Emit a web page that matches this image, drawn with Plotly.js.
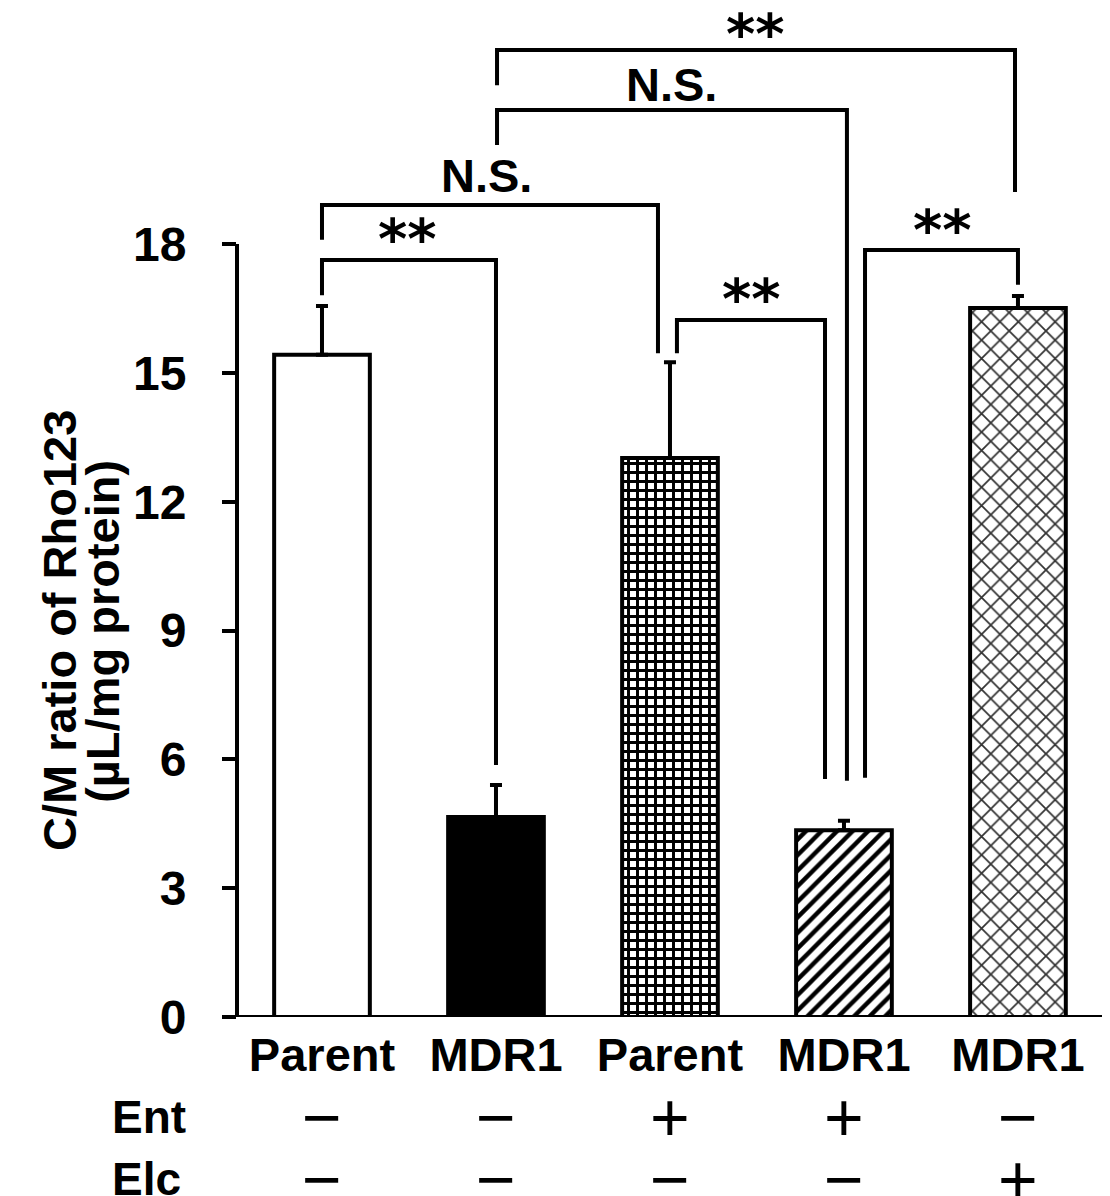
<!DOCTYPE html>
<html><head><meta charset="utf-8">
<script src="https://cdn.plot.ly/plotly-3.0.1.min.js"></script>
<style>body{margin:0;background:#fff}</style>
</head><body><div id="chart" style="width:1110px;height:1196px"></div>
<script>
// ---- data ----
const groupLabels = ['Parent', 'MDR1', 'Parent', 'MDR1', 'MDR1'];
const cmRatio = [15.42, 4.66, 13.02, 4.35, 16.51];
const cmError = [1.14, 0.74, 2.23, 0.22, 0.28];
const entRow = ['\u2212', '\u2212', '+', '+', '\u2212'];
const elcRow = ['\u2212', '\u2212', '\u2212', '\u2212', '+'];
const yTicks = [0, 3, 6, 9, 12, 15, 18];
const compLabel = ['**', 'N.S.', '**', 'N.S.', '**', '**'];

// ---- bracket geometry (layout only) ----
const brXL = [0, 0, 2.040, 1.006, 3.121, 1.006];
const brXR = [1, 1.931, 2.891, 3.017, 4.0, 3.983];
const brYL = [16.81, 18.10, 15.46, 20.31, 5.57, 21.70];
const brYT = [17.63, 18.91, 16.23, 21.12, 17.86, 22.52];
const brYR = [5.87, 15.46, 5.54, 5.50, 17.05, 19.21];
const lbX = [0.491, 0.948, 2.466, 2.011, 3.569, 2.494];
const lbY = [18.28, 19.60, 16.88, 21.72, 18.49, 23.05];

// ---- bar styles ----
const barFill = ['white', 'black', 'white', 'white', 'white'];
const patShape = ['', '', '+', '/', 'x'];
const patFg = ['black', 'black', 'black', 'black', '#333333'];
const patSize = [10, 10, 9, 11, 13];
const patSolid = [0.3, 0.3, 0.55, 0.4, 0.25];

const xIdx = groupLabels.map((_, i) => i);
const FONT = 'Liberation Sans, Arial, sans-serif';
const STARFONT = 'DejaVu Sans, Liberation Sans, sans-serif';

const traces = xIdx.map(i => {
  const marker = {color: barFill[i], line: {color: 'black', width: 4}};
  if (patShape[i]) {
    marker.pattern = {shape: patShape[i], fgcolor: patFg[i], bgcolor: 'white',
      size: patSize[i], solidity: patSolid[i], fillmode: 'replace'};
  }
  return {
    type: 'bar', x: [xIdx[i]], y: [cmRatio[i]], width: 0.55, marker: marker,
    error_y: {type: 'data', symmetric: false, array: [cmError[i]], arrayminus: [0],
      color: 'black', thickness: 4, width: 6},
    hoverinfo: 'none', showlegend: false
  };
});

const shapes = [];
const lineStyle = {color: 'black', width: 4};
shapes.push({type: 'line', xref: 'paper', yref: 'y', x0: 0, x1: 0, y0: 0, y1: 18, line: lineStyle});
shapes.push({type: 'line', xref: 'paper', yref: 'y', x0: 0, x1: 1, y0: 0, y1: 0, line: lineStyle});
for (let i = 0; i < compLabel.length; i++) {
  shapes.push({
    type: 'path', xref: 'x', yref: 'y',
    path: `M ${brXL[i]},${brYL[i]} L ${brXL[i]},${brYT[i]} L ${brXR[i]},${brYT[i]} L ${brXR[i]},${brYR[i]}`,
    line: lineStyle
  });
}

const annotations = [];
for (let i = 0; i < compLabel.length; i++) {
  const star = compLabel[i] === '**';
  annotations.push({
    xref: 'x', yref: 'y', x: lbX[i], y: lbY[i], text: compLabel[i], showarrow: false,
    xanchor: 'center', yanchor: 'middle',
    yshift: star ? -6 : 0,
    font: star ? {family: STARFONT, size: 56, color: 'black', weight: 'bold'}
               : {family: FONT, size: 47, color: 'black', weight: 'bold'}
  });
}
const row1Y = -0.0983, row2Y = -0.1593;
annotations.push({xref: 'paper', yref: 'paper', x: -0.1468, y: row1Y, text: 'Ent', showarrow: false,
  xanchor: 'left', yanchor: 'middle', font: {family: FONT, size: 46, color: 'black', weight: 'bold'}});
annotations.push({xref: 'paper', yref: 'paper', x: -0.1468, y: row2Y, text: 'Elc', showarrow: false,
  xanchor: 'left', yanchor: 'middle', font: {family: FONT, size: 46, color: 'black', weight: 'bold'}});
for (let i = 0; i < xIdx.length; i++) {
  annotations.push({xref: 'x', yref: 'paper', x: xIdx[i], y: row1Y, text: entRow[i], showarrow: false,
    xanchor: 'center', yanchor: 'middle', font: {family: FONT, size: 68, color: 'black', weight: 'normal'}});
  annotations.push({xref: 'x', yref: 'paper', x: xIdx[i], y: row2Y, text: elcRow[i], showarrow: false,
    xanchor: 'center', yanchor: 'middle', font: {family: FONT, size: 68, color: 'black', weight: 'normal'}});
}
annotations.push({xref: 'paper', yref: 'paper', x: -0.2046, y: 0.3796, text: 'C/M ratio of Rho123',
  textangle: -90, showarrow: false, xanchor: 'center', yanchor: 'middle',
  font: {family: FONT, size: 47, color: 'black', weight: 'bold'}});
annotations.push({xref: 'paper', yref: 'paper', x: -0.155, y: 0.3796, text: '(\u00b5L/mg protein)',
  textangle: -90, showarrow: false, xanchor: 'center', yanchor: 'middle',
  font: {family: FONT, size: 47, color: 'black', weight: 'bold'}});

const layout = {
  width: 1110, height: 1196,
  margin: {l: 237, r: 8, t: 0, b: 179, pad: 0},
  paper_bgcolor: 'white', plot_bgcolor: 'white',
  font: {family: FONT, size: 46, color: 'black', weight: 'bold'},
  showlegend: false,
  barmode: 'overlay',
  xaxis: {
    range: [-0.4885, 4.483], tickmode: 'array', tickvals: xIdx, ticktext: groupLabels,
    ticks: '', showline: false, showgrid: false, zeroline: false, ticklabelstandoff: 6,
    tickfont: {family: FONT, size: 47, color: 'black', weight: 'bold'}, fixedrange: true
  },
  yaxis: {
    range: [0, 23.684], tickmode: 'array', tickvals: yTicks,
    ticks: 'outside', ticklen: 14, tickwidth: 4, tickcolor: 'black',
    showline: false, showgrid: false, zeroline: false, ticklabelstandoff: 26,
    tickfont: {family: FONT, size: 48, color: 'black', weight: 'bold'}, fixedrange: true
  },
  shapes: shapes,
  annotations: annotations
};

Plotly.newPlot('chart', traces, layout, {staticPlot: true, displayModeBar: false});
</script>
</body></html>
